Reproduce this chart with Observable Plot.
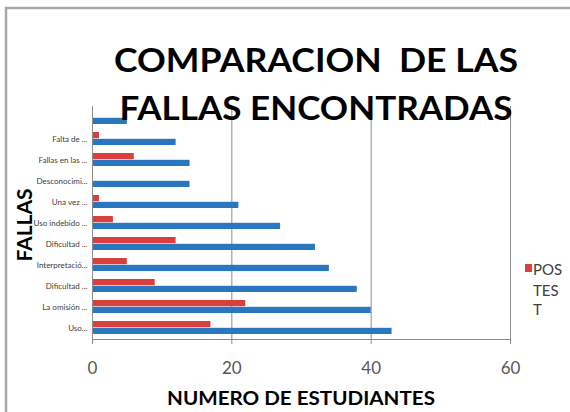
<!DOCTYPE html>
<html><head><meta charset="utf-8">
<script src="https://cdn.jsdelivr.net/npm/d3@7"></script>
<script src="https://cdn.jsdelivr.net/npm/@observablehq/plot@0.6"></script>
<style>
body{margin:0;background:#fff;overflow:hidden}
#chart{width:570px;height:412px;position:relative}
</style>
</head><body><div id="chart"></div>
<script>
// Categories from top to bottom (top one has no visible label)
const categories = ["", "Falta de ...", "Fallas en las ...", "Desconocimi...", "Una vez ...", "Uso indebido ...", "Dificultad ...", "Interpretació...", "Dificultad ...", "La omisión ...", "Uso..."];
const pretest = [5, 12, 14, 14, 21, 27, 32, 34, 38, 40, 43];
const postest = [0, 1, 6, 0, 1, 3, 12, 5, 9, 22, 17];
const seriesNames = ["PRETEST", "POSTEST"];
const seriesColors = ["#2a77bf", "#d9403d"];
const xTicks = [0, 20, 40, 60];
const titleLines = ["COMPARACION  DE LAS", "FALLAS ENCONTRADAS"];
const xTitle = "NUMERO DE ESTUDIANTES";
const yTitle = "FALLAS";
const legendLabel = "POSTEST";

const rows = categories.flatMap((c, i) => [
  {i, series: seriesNames[0], value: pretest[i]},
  {i, series: seriesNames[1], value: postest[i]}
]);

const gray = "#8c8c8c";
const plot = Plot.plot({
  width: 570, height: 412,
  marginLeft: 92, marginRight: 60, marginTop: 106, marginBottom: 73,
  style: {fontFamily: "Lato, sans-serif", background: "transparent"},
  x: {domain: [0, 60]},
  y: {domain: categories.map((_, i) => i), paddingInner: 0.36, paddingOuter: 0.18},
  color: {domain: seriesNames, range: seriesColors},
  marks: [
    Plot.gridX({ticks: xTicks.slice(1), stroke: gray, strokeOpacity: 1}),
    Plot.barX(rows.filter(d => d.series === "POSTEST"), {x: "value", y: "i", fill: "series", insetBottom: 6.8}),
    Plot.barX(rows.filter(d => d.series === "PRETEST"), {x: "value", y: "i", fill: "series", insetTop: 6.8}),
    Plot.ruleX([0], {stroke: gray}),
    Plot.frame({anchor: "bottom", stroke: gray}),
    Plot.axisX({ticks: xTicks, tickSize: 5, tickPadding: 17, fontSize: 17, label: null, stroke: gray, fill: "#595959"}),
    Plot.axisY({tickSize: 0, tickPadding: 5, fontSize: 8, label: null, fill: "#404040", tickFormat: i => categories[i]})
  ]
});
document.getElementById("chart").appendChild(plot);

const svg = d3.select(plot);
// chart border (left and top)
svg.append("path").attr("d", "M6,412V8H570").attr("fill", "none").attr("stroke", "#a8a8a8").attr("stroke-width", 2.5);

// main title
const tw = [404, 393], ty = [72, 120];
titleLines.forEach((t, k) => {
  svg.append("text").attr("x", 316).attr("y", ty[k]).attr("text-anchor", "middle")
    .attr("font-family", "Lato, sans-serif").attr("font-weight", "bold").attr("font-size", 32)
    .attr("fill", "#000").attr("textLength", tw[k]).attr("lengthAdjust", "spacingAndGlyphs")
    .style("white-space", "pre").text(t);
});

// x axis title
svg.append("text").attr("x", 301).attr("y", 405).attr("text-anchor", "middle")
  .attr("font-family", "Lato, sans-serif").attr("font-weight", "bold").attr("font-size", 19)
  .attr("fill", "#000").attr("textLength", 268).attr("lengthAdjust", "spacingAndGlyphs").text(xTitle);

// y axis title
svg.append("text").attr("transform", "translate(32,225) rotate(-90)").attr("text-anchor", "middle")
  .attr("font-family", "Lato, sans-serif").attr("font-weight", "bold").attr("font-size", 21)
  .attr("fill", "#000").text(yTitle);

// legend (wrapped, only POSTEST visible)
svg.append("rect").attr("x", 525).attr("y", 264).attr("width", 7).attr("height", 8).attr("fill", seriesColors[1]);
const lt = svg.append("text").attr("text-anchor", "start").attr("font-family", "Lato, sans-serif")
  .attr("font-size", 15).attr("fill", "#404040");
[[legendLabel.slice(0, 3), 275], [legendLabel.slice(3, 6), 296], [legendLabel.slice(6), 315]].forEach(([s, y]) => {
  lt.append("tspan").attr("x", 533).attr("y", y).text(s);
});
</script>
</body></html>
